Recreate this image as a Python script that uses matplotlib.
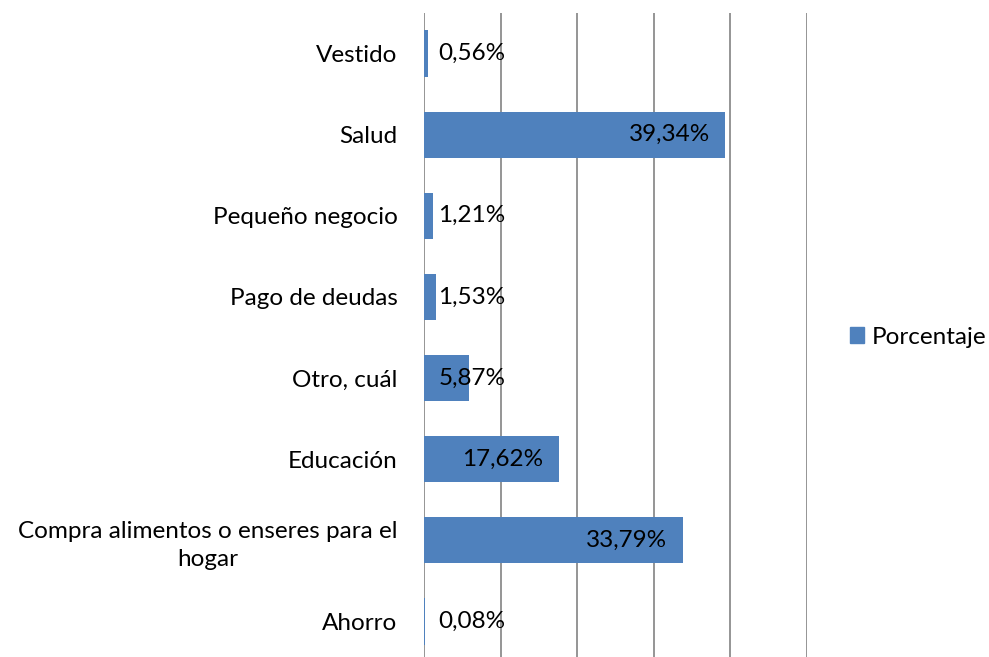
import matplotlib.pyplot as plt
from matplotlib.patches import Patch

# categories bottom to top
categories = ['Ahorro', 'Compra alimentos o enseres para el\nhogar', 'Educación',
              'Otro, cuál', 'Pago de deudas', 'Pequeño negocio', 'Salud', 'Vestido']
porcentaje = [0.08, 33.79, 17.62, 5.87, 1.53, 1.21, 39.34, 0.56]
labels = ['0,08%', '33,79%', '17,62%', '5,87%', '1,53%', '1,21%', '39,34%', '0,56%']

bar_color = '#4F81BD'
plt.rcParams['font.family'] = ['Lato', 'DejaVu Sans']
fs = 17.5

fig = plt.figure(figsize=(9.89, 6.57), dpi=100)
ax = fig.add_axes([424 / 989, -5 / 657, (807 - 424) / 989, (662 - 13) / 657])

y = range(len(categories))
ax.barh(y, porcentaje, height=0.57, color=bar_color, zorder=3)

ax.set_xlim(0, 50)
ax.set_ylim(-0.5, len(categories) - 0.5)
ax.set_xticks([0, 10, 20, 30, 40, 50])
ax.xaxis.grid(True, color='#8c8c8c', linewidth=1.3, zorder=0)
ax.tick_params(axis='x', length=0, labelbottom=False)
ax.tick_params(axis='y', length=0, pad=19, labelsize=fs)
ax.set_yticks(list(y))
ax.set_yticklabels(categories)
for t in ax.get_yticklabels():
    t.set_multialignment('center')
    t.set_linespacing(1.4)
for s in ax.spines.values():
    s.set_visible(False)

# data labels: inside end for big bars, fixed spot for small ones
for i, (v, lab) in enumerate(zip(porcentaje, labels)):
    xpos = v - 2.0 if v > 10 else 10.6
    ax.text(xpos, i, lab, ha='right', va='center', fontsize=fs, color='black', zorder=4)

fig.legend(handles=[Patch(color=bar_color, label='Porcentaje')],
           loc='center left', bbox_to_anchor=(845 / 989, 1 - 337 / 657),
           frameon=False, handlelength=0.6, handleheight=0.6,
           handletextpad=0.3, fontsize=fs, borderpad=0.2, borderaxespad=0)

fig.savefig('out.png', dpi=100)
